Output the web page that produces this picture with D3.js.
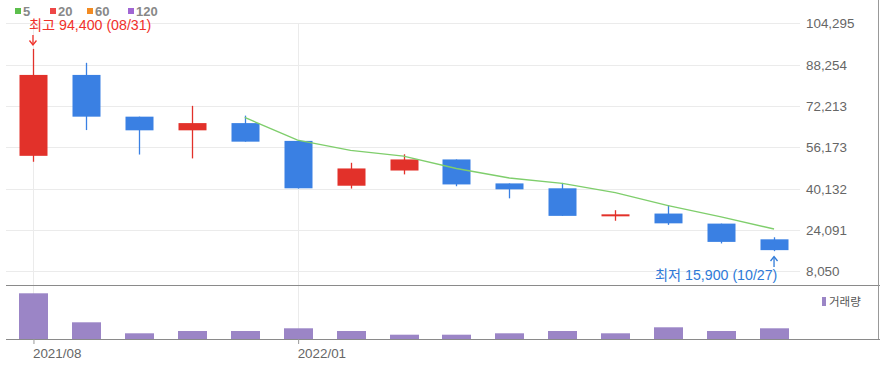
<!DOCTYPE html>
<html><head><meta charset="utf-8">
<script src="https://cdn.jsdelivr.net/npm/d3@7"></script>
<style>
html,body{margin:0;padding:0;background:#fff;}
svg{display:block;font-family:"Liberation Sans","Noto Sans CJK KR",Arial,sans-serif;}
</style></head>
<body><svg id="c" width="880" height="379"></svg>
<script>
const months = ["2021/08","2021/09","2021/10","2021/11","2021/12","2022/01","2022/02","2022/03","2022/04","2022/05","2022/06","2022/07","2022/08","2022/09","2022/10"];
const openV  = [52900,84300,68100,62800,65600,58700,41300,47200,51500,42200,40300,30000,30500,26600,20500];
const highV  = [94400,89000,68100,72300,68500,58700,50200,53500,51500,42200,42400,31800,33800,26600,21300];
const lowV   = [50600,62900,53400,51900,58400,40200,40200,45700,41100,36400,29600,27700,26100,18900,15900];
const closeV = [84300,68100,62800,65600,58400,40300,48000,51500,41800,39900,29600,30200,26700,19500,16300];
const ma5V   = [null,null,null,null,67800,59000,55000,52800,48000,44300,42200,38600,33600,29200,24500];
const volumeV= [4570,1670,570,800,800,1070,800,430,430,570,800,570,1170,800,1070];
const yTickVals = [8050,24091,40132,56173,72213,88254,104295];
const yTickLabels = ["8,050","24,091","40,132","56,173","72,213","88,254","104,295"];
const xTickVals = ["2021/08","2022/01"];
const legendNames = ["5","20","60","120"];
const legendColors = ["#5cbf4c","#ee4747","#f28b22","#a066d3"];
const hiLabel = "최고 94,400 (08/31)";
const loLabel = "최저 15,900 (10/27)";
const volLabel = "거래량";

const UP = "#e2312a", DOWN = "#3a80e3";
const svg = d3.select("#c");

const x = d3.scalePoint().domain(months).range([6.5, 800.5]).padding(0.5);
const y = d3.scaleLinear().domain([8050,104295]).range([271.4, 23.4]);
const yv = d3.scaleLinear().domain([0,5400]).range([339, 285]);
const bw = 28;

// horizontal gridlines
svg.append("g").selectAll("line").data(yTickVals).join("line")
  .attr("x1",6).attr("x2",800).attr("y1",d=>Math.round(y(d))+0.5).attr("y2",d=>Math.round(y(d))+0.5)
  .attr("stroke","#ebebeb").attr("stroke-width",1);
// vertical gridlines
svg.append("g").selectAll("line").data(xTickVals).join("line")
  .attr("x1",d=>Math.round(x(d))+0.5).attr("x2",d=>Math.round(x(d))+0.5)
  .attr("y1",23).attr("y2",339).attr("stroke","#ebebeb");

// y axis
const yAxis = d3.axisRight(y).tickValues(yTickVals).tickFormat((d,i)=>yTickLabels[i]).tickSize(0).tickPadding(6);
const ya = svg.append("g").attr("transform","translate(800,0)").call(yAxis);
ya.select(".domain").remove();
ya.selectAll("text").attr("fill","#666").attr("font-size","13.4px");

// borders
svg.append("line").attr("x1",6).attr("x2",880).attr("y1",285.5).attr("y2",285.5).attr("stroke","#8a8a8a");
svg.append("line").attr("x1",878.5).attr("x2",878.5).attr("y1",0).attr("y2",339).attr("stroke","#999");

// candles
const data = months.map((m,i)=>({m,o:openV[i],h:highV[i],l:lowV[i],c:closeV[i]}));
const cg = svg.append("g");
cg.selectAll("line.wick").data(data).join("line").attr("class","wick")
  .attr("x1",d=>Math.round(x(d.m))+0.5).attr("x2",d=>Math.round(x(d.m))+0.5)
  .attr("y1",d=>y(d.h)).attr("y2",d=>y(d.l))
  .attr("stroke",d=>d.c>=d.o?UP:DOWN).attr("stroke-width",1.3);
cg.selectAll("rect.body").data(data).join("rect").attr("class","body")
  .attr("x",d=>Math.round(x(d.m))-bw/2+0.5).attr("width",bw)
  .attr("y",d=>y(Math.max(d.o,d.c))).attr("height",d=>Math.max(2,Math.abs(y(d.o)-y(d.c))))
  .attr("fill",d=>d.c>=d.o?UP:DOWN);

// MA5
const line = d3.line().defined(d=>d.v!=null).x(d=>x(d.m)).y(d=>y(d.v));
svg.append("path").datum(months.map((m,i)=>({m,v:ma5V[i]})))
  .attr("d",line).attr("fill","none").attr("stroke","#7fce6c").attr("stroke-width",1.4);

// high / low annotations
const hiX = x(months[0]), loX = x(months[months.length-1]);
svg.append("text").attr("x",29).attr("y",30).attr("fill","#f0312a").attr("font-size","14.2px").text(hiLabel);
svg.append("line").attr("x1",hiX).attr("x2",hiX).attr("y1",35).attr("y2",44).attr("stroke","#f0312a").attr("stroke-width",1.3);
svg.append("path").attr("d",`M${hiX-3.5},${40.5}L${hiX},${45}L${hiX+3.5},${40.5}`).attr("fill","none").attr("stroke","#f0312a").attr("stroke-width",1.3);
svg.append("text").attr("x",655).attr("y",280).attr("fill","#2f7ad8").attr("font-size","14.2px").text(loLabel);
svg.append("line").attr("x1",loX).attr("x2",loX).attr("y1",257).attr("y2",267).attr("stroke","#2f7ad8").attr("stroke-width",1.3);
svg.append("path").attr("d",`M${loX-3.5},${261}L${loX},${256.5}L${loX+3.5},${261}`).attr("fill","none").attr("stroke","#2f7ad8").attr("stroke-width",1.3);

// volume
svg.append("g").selectAll("rect").data(months.map((m,i)=>({m,v:volumeV[i]}))).join("rect")
  .attr("x",d=>Math.round(x(d.m))-bw/2).attr("width",bw+1)
  .attr("y",d=>yv(d.v)).attr("height",d=>339-yv(d.v))
  .attr("fill","#9b85c6");
svg.append("line").attr("x1",6).attr("x2",880).attr("y1",339.5).attr("y2",339.5).attr("stroke","#8a8a8a");

// x axis
const xAxis = d3.axisBottom(x).tickValues(xTickVals).tickSize(5).tickPadding(4);
const xa = svg.append("g").attr("transform","translate(0.5,339)").call(xAxis);
xa.select(".domain").remove();
xa.selectAll("line").attr("stroke","#999");
xa.selectAll("text").attr("text-anchor","start").attr("dx","-1").attr("fill","#666").attr("font-size","13.4px");

// volume legend
svg.append("rect").attr("x",822).attr("y",297).attr("width",4).attr("height",9).attr("fill","#9b85c6");
svg.append("text").attr("x",829).attr("y",305.5).attr("fill","#555").attr("font-size","11.5px").text(volLabel);

// top legend
const lx = [15,50,87,128];
const lg = svg.append("g").selectAll("g").data(legendNames).join("g").attr("transform",(d,i)=>`translate(${lx[i]},0)`);
lg.append("rect").attr("x",0).attr("y",8).attr("width",6).attr("height",6).attr("fill",(d,i)=>legendColors[i]);
lg.append("text").attr("x",8).attr("y",15.5).attr("fill","#888").attr("font-size","13px").attr("font-weight","bold").text(d=>d);
</script></body></html>
